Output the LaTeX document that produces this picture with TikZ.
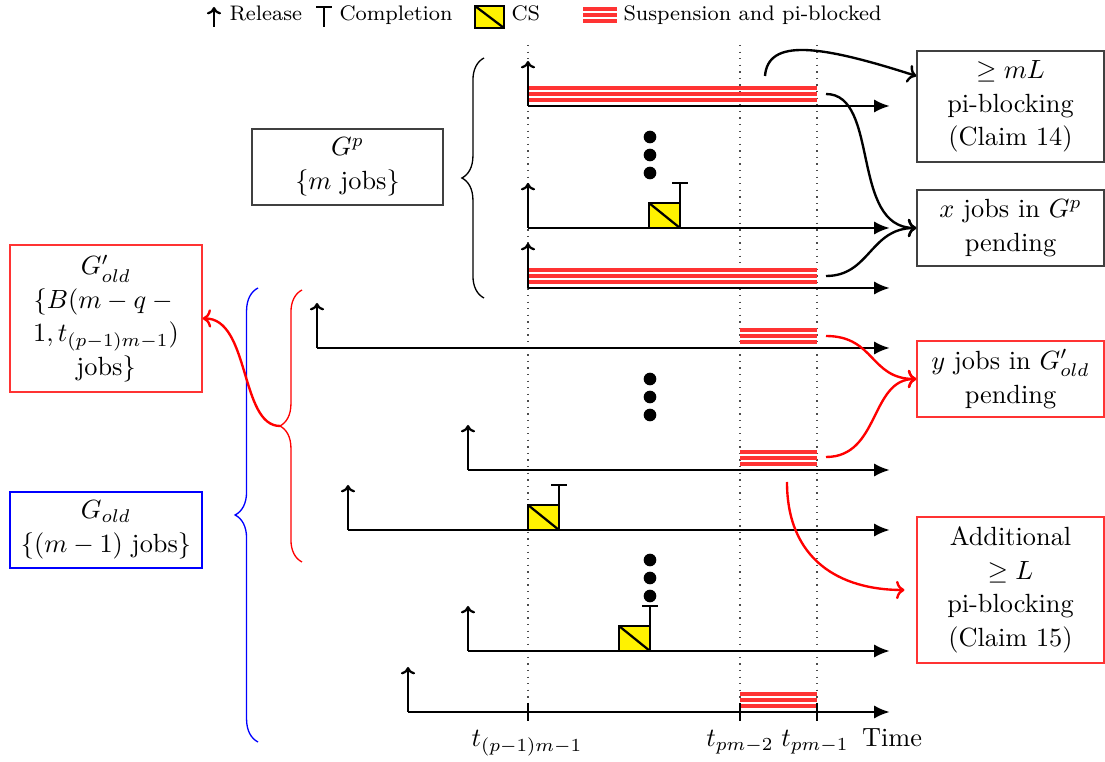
\documentclass[tikz,border=0pt]{standalone}
\usetikzlibrary{arrows.meta,decorations.pathreplacing}
\begin{document}
\begin{tikzpicture}[x=0.38pt,y={(0pt,-0.38pt)},
  axis/.style={line width=1.05pt,-{Latex[length=6pt,width=5pt]}},
  rel/.style={line width=0.85pt,-{To[length=2.8pt,width=5.4pt]}},
  susp/.style={red!80,line width=1.4pt},
  csbox/.style={fill=yellow,draw=black,line width=0.85pt},
  compl/.style={line width=0.85pt},
  guide/.style={dotted,black!70,line width=0.5pt},
  conn/.style={line width=0.9pt,-{To[length=3.2pt,width=7pt]}},
  rconn/.style={conn,red},
  jobdot/.style={fill=black,circle,inner sep=0pt,minimum size=4.8pt},
  box/.style={draw=black!75,line width=0.5pt,align=center,inner sep=0pt,
    execute at begin node={\setlength{\baselineskip}{12.8pt}}},
  rbox/.style={box,draw=red!80},
  bbox/.style={box,draw=blue},
  legend/.style={font=\footnotesize,anchor=base west,inner sep=0pt},
  gbrace/.style={decorate,decoration={brace,amplitude=#1},line width=0.5pt},
]
\useasboundingbox (0,0) rectangle (1105,762);

% guides
\foreach \x in {528,740,817} \draw[guide] (\x,45) -- (\x,712);

% legend
\draw[rel] (214,27) -- (214,7);
\node[legend] (lrel) at (229,21) {Release};
\draw[compl] (324,27) -- (324,7) (316,7) -- (332,7);
\node[legend] (lcomp) at (339,21) {Completion};
\draw[csbox] (475,6) rectangle (504,28);
\draw[line width=0.85pt] (475,6) -- (504,28);
\node[legend] (lcs) at (511,21) {CS};
\foreach \d in {9,15,21} \draw[susp] (583,\d) -- (617,\d);
\node[legend] (lsus) at (623,21) {Suspension and pi-blocked};

% suspension bars
\foreach \a/\y in {528/106, 528/288, 740/348, 740/470, 740/712}
  \foreach \d in {6,12,18} \draw[susp] (\a,\y-\d) -- (817,\y-\d);

% timelines
\foreach \n/\xs/\y in {A/528/106, B/528/228, C/528/288, D/317/348, E/468/470, F/348/530, G/468/651, H/408/712} {
  \coordinate (\n0) at (\xs,\y);
  \coordinate (\n1) at (890,\y);
  \draw[axis] (\n0) -- (\n1);
  \draw[rel] (\n0) -- ++(0,-45);
}

% CS + completion
\foreach \a/\b/\y in {649/680/228, 528/559/530, 619/650/651} {
  \draw[csbox] (\a,\y-25) rectangle (\b,\y);
  \draw[line width=0.85pt] (\a,\y-25) -- (\b,\y);
  \draw[compl] (\b,\y-25) -- (\b,\y-45) (\b-8,\y-45) -- (\b+8,\y-45);
}

% ticks and labels
\foreach \x in {528,740,817} \draw[line width=1pt] (\x,703) -- (\x,721);
\node[anchor=base,inner sep=0pt] (l1) at (527,747) {$t_{(p-1)m-1}$};
\node[anchor=base,inner sep=0pt] (l2) at (740,747) {$t_{pm-2}$};
\node[anchor=base,inner sep=0pt] (l3) at (815,747) {$t_{pm-1}$};
\node[anchor=base,inner sep=0pt] (ltime) at (892,747) {Time};

% dots
\foreach \i/\y in {1/137,2/155,3/173,4/379,5/397,6/415,7/560,8/578,9/596}
  \node[jobdot] (dot\i) at (650,\y) {};

% boxes
\node[box,minimum width=72.6pt,minimum height=28.9pt] (Gp) at (347.5,167) {$G^p$\\$\{m$ jobs$\}$};
\node[rbox,minimum width=73pt,minimum height=55.9pt] (Gop) at (106,318.5) {$G'_{old}$\\$\{B(m-q-{}$\\$1,t_{(p-1)m-1})$\\jobs$\}$};
\node[bbox,minimum width=73pt,minimum height=28.9pt] (Go) at (106,530) {$G_{old}$\\$\{(m-1)$ jobs$\}$};
\node[box,minimum width=71.1pt,minimum height=42.2pt] (mL) at (1010.5,106.5) {$\geq mL$\\pi-blocking\\(Claim 14)};
\node[box,minimum width=71.1pt,minimum height=28.9pt] (xj) at (1010.5,228) {$x$ jobs in $G^p$\\pending};
\node[rbox,minimum width=71.1pt,minimum height=28.9pt] (yj) at (1010.5,379) {$y$ jobs in $G'_{old}$\\pending};
\node[rbox,minimum width=71.1pt,minimum height=55.5pt] (add) at (1010.5,590) {Additional\\$\geq L$\\pi-blocking\\(Claim 15)};

% braces
\draw[gbrace=8.4pt] (484,298) -- (484,58);
\draw[gbrace=8.4pt,red] (302,562) -- (302,290);
\draw[gbrace=8.7pt,blue] (258,742) -- (258,288);
\coordinate (rtip) at (280,426);

% connectors
\coordinate (c1) at (765,76);
\draw[conn] (c1) .. controls (768,38) and (820,45) .. (mL.west |- c1);
\coordinate (c2) at (826,94);
\draw[conn] (c2) .. controls (880,94) and (850,228) .. (xj.west);
\coordinate (c3) at (826,276);
\draw[conn] (c3) .. controls (870,276) and (870,228) .. (xj.west);
\coordinate (c4) at (826,336);
\draw[rconn] (c4) .. controls (875,336) and (870,379) .. (yj.west);
\coordinate (c5) at (826,457);
\draw[rconn] (c5) .. controls (880,457) and (870,379) .. (yj.west);
\coordinate (c6) at (787,482);
\draw[rconn,shorten >=4.5pt] (c6) .. controls (787,560) and (840,590) .. (add.west);
\draw[rconn] (rtip) .. controls (240,426) and (250,318) .. (Gop.east);
\end{tikzpicture}
\end{document}
